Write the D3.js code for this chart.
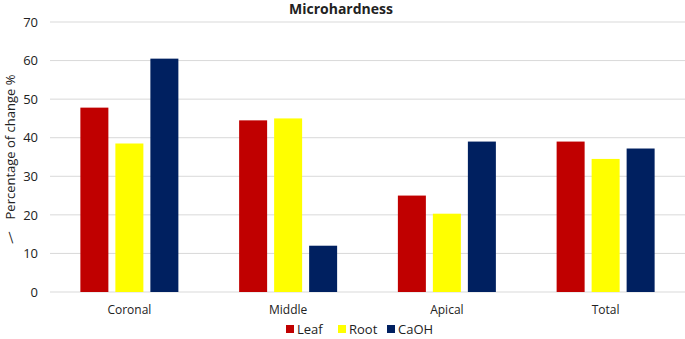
<!DOCTYPE html>
<html lang="en">
    <head>
        <meta charset="utf-8">
        <title>Microhardness</title>
        <script type="text/javascript" src="https://d3js.org/d3.v7.min.js"></script>
        <style type="text/css">
            body { margin: 0; background: white; }
            text { font-family: "Open Sans", "Noto Sans", sans-serif; fill: #222; }
        </style>
    </head>
    <body>
        <script type="text/javascript">

        // Width and Height
        var w = 685;
        var h = 339;

        // Data
        var categories = ["Coronal", "Middle", "Apical", "Total"];
        var seriesNames = ["Leaf", "Root", "CaOH"];
        var leaf = [47.8, 44.5, 25, 39];
        var root = [38.5, 45, 20.3, 34.5];
        var caoh = [60.5, 12, 39, 37.2];
        var yTicks = [0, 10, 20, 30, 40, 50, 60, 70];
        var colors = ["#c00000", "#ffff00", "#002060"];

        var series = [leaf, root, caoh];

        var margin = {top: 22, right: 0, bottom: 47, left: 50};

        var svg = d3.select("body")
                    .append("svg")
                    .attr("width", w)
                    .attr("height", h);

        // Scales
        var x0 = d3.scaleBand()
                   .domain(categories)
                   .range([margin.left, w - margin.right]);

        var x1 = d3.scaleBand()
                   .domain(seriesNames)
                   .range([0, 98])
                   .paddingInner(0.2);

        var y = d3.scaleLinear()
                  .domain([0, 70])
                  .range([h - margin.bottom, margin.top]);

        // Gridlines
        svg.append("g")
           .selectAll("line")
           .data(yTicks)
           .enter()
           .append("line")
           .attr("x1", margin.left)
           .attr("x2", w - margin.right)
           .attr("y1", function(d){ return y(d); })
           .attr("y2", function(d){ return y(d); })
           .attr("stroke", "#d9d9d9")
           .attr("stroke-width", 1);

        // Y axis labels
        var yAxis = d3.axisLeft(y).tickValues(yTicks).tickSize(0).tickPadding(12);
        svg.append("g")
           .attr("transform", "translate(" + margin.left + ",0)")
           .call(yAxis)
           .call(function(g){ g.select(".domain").remove(); })
           .selectAll("text")
           .style("font-size", "13px")
           .style("fill", "#222");

        // Bars
        var groups = svg.selectAll("g.cat")
                        .data(categories)
                        .enter()
                        .append("g")
                        .attr("class", "cat")
                        .attr("transform", function(d){
                            return "translate(" + (x0(d) + (x0.bandwidth() - 98) / 2) + ",0)";
                        });

        groups.selectAll("rect")
              .data(function(d, i){
                  return seriesNames.map(function(s, j){ return {name: s, value: series[j][i], k: j}; });
              })
              .enter()
              .append("rect")
              .attr("x", function(d){ return x1(d.name); })
              .attr("width", x1.bandwidth())
              .attr("y", function(d){ return y(d.value); })
              .attr("height", function(d){ return y(0) - y(d.value); })
              .attr("fill", function(d){ return colors[d.k]; });

        // X axis labels
        var xAxis = d3.axisBottom(x0).tickSize(0).tickPadding(13);
        svg.append("g")
           .attr("transform", "translate(0," + y(0) + ")")
           .call(xAxis)
           .call(function(g){ g.select(".domain").remove(); })
           .selectAll("text")
           .style("font-size", "12px")
           .style("fill", "#222");

        // Title
        svg.append("text")
           .attr("x", 341)
           .attr("y", 14)
           .attr("text-anchor", "middle")
           .style("font-size", "14px")
           .style("font-weight", "bold")
           .text("Microhardness");

        // Y axis title
        svg.append("text")
           .attr("transform", "translate(15,147) rotate(-90)")
           .attr("text-anchor", "middle")
           .style("font-size", "13px")
           .text("Percentage of change %");

        // small dash before the axis title
        svg.append("text")
           .attr("transform", "translate(10,238) rotate(-108)")
           .attr("text-anchor", "middle")
           .attr("dy", "0.35em")
           .style("font-size", "13px")
           .text("—");

        // Legend
        var legendX = [286, 338, 387];
        var legend = svg.selectAll("g.legend")
                        .data(seriesNames)
                        .enter()
                        .append("g")
                        .attr("class", "legend")
                        .attr("transform", function(d, i){ return "translate(" + legendX[i] + ",325)"; });

        legend.append("rect")
              .attr("width", 8)
              .attr("height", 8)
              .attr("fill", function(d, i){ return colors[i]; });

        legend.append("text")
              .attr("x", 11)
              .attr("y", 9)
              .style("font-size", "13px")
              .text(function(d){ return d; });

        </script>
    </body>
</html>
